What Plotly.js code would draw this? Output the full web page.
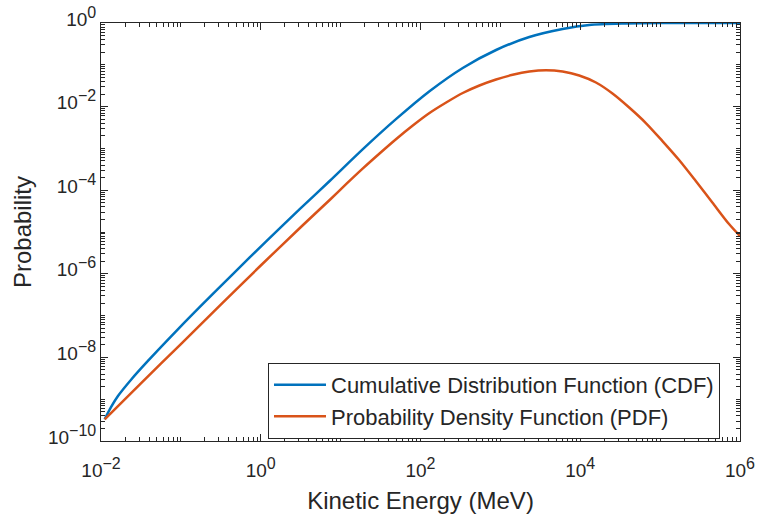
<!DOCTYPE html>
<html>
<head>
<meta charset="utf-8">
<script src="https://cdn.plot.ly/plotly-3.0.1.min.js"></script>
<style>html,body{margin:0;padding:0;background:#fff;}#chart{width:760px;height:516px;}</style>
</head>
<body>
<div id="chart"></div>
<script>
// Kinetic energy (MeV) and probabilities
const energyCdf = [0.01112, 0.01345, 0.01631, 0.02393, 0.03868, 0.0917, 0.1728, 0.4508, 1.178, 3.073, 7.289, 19.0, 49.7, 129.6, 338, 883, 2304, 6010, 12960, 37250, 97160, 1000000];
const cdfValues = [3.30e-10, 6.62e-10, 1.19e-9, 2.96e-9, 8.22e-9, 4.68e-8, 1.61e-7, 1.0e-6, 6.08e-6, 3.52e-5, 1.66e-4, 9.6e-4, 5.07e-3, 0.0233, 0.0841, 0.226, 0.462, 0.718, 0.896, 0.973, 0.996, 1.0];

const energyPdf = [0.01112, 0.0316, 0.1, 0.316, 1.0, 3.16, 7.29, 11.79, 19.0, 30.7, 49.7, 80.1, 129.6, 209.6, 337.9, 546.5, 883.6, 1425, 2304, 3726, 6009, 9716, 15720, 25340, 40980, 66270, 106900, 172800, 279500, 450600, 728800, 1000000];
const pdfValues = [3.30e-10, 2.4e-9, 2.09e-8, 1.82e-7, 1.58e-6, 1.3e-5, 5.83e-5, 1.41e-4, 3.32e-4, 7.55e-4, 1.68e-3, 3.53e-3, 7.03e-3, 0.01254, 0.02115, 0.0320, 0.0445, 0.0576, 0.0691, 0.0743, 0.0691, 0.0555, 0.0377, 0.0206, 9.52e-3, 4.05e-3, 1.50e-3, 5.28e-4, 1.66e-4, 5.08e-5, 1.55e-5, 8.0e-6];

const seriesNames = ['Cumulative Distribution Function (CDF)', 'Probability Density Function (PDF)'];
const xTickVals = [1e-2, 1e0, 1e2, 1e4, 1e6];
const xTickExp = ['\u22122', '0', '2', '4', '6'];
const yTickVals = [1e-10, 1e-8, 1e-6, 1e-4, 1e-2, 1e0];
const yTickExp = ['\u221210', '\u22128', '\u22126', '\u22124', '\u22122', '0'];
const xDecades = [-2, 6];
const yDecades = [-10, 0];

const powerLabel = e => '10<sup><span style="font-size:16px">' + e + '</span></sup>';

// minor tick positions: every digit of every decade that is not a labelled tick
function minorTicks(lo, hi, major) {
  const out = [];
  for (let k = lo; k < hi; k++) {
    for (let d = 1; d <= 9; d++) {
      const v = d * Math.pow(10, k);
      if (!major.some(m => Math.abs(m - v) / v < 1e-9)) out.push(v);
    }
  }
  return out;
}
const xMinor = minorTicks(xDecades[0], xDecades[1], xTickVals);
const yMinor = minorTicks(yDecades[0], yDecades[1], yTickVals);

const ink = '#262626';
const font = 'Liberation Sans, Arial, Helvetica, sans-serif';

const traces = [
  {x: energyCdf, y: cdfValues, name: seriesNames[0], type: 'scatter', mode: 'lines',
   line: {color: '#0072BD', width: 2.5, shape: 'spline', smoothing: 0.8}},
  {x: energyPdf, y: pdfValues, name: seriesNames[1], type: 'scatter', mode: 'lines',
   line: {color: '#D95319', width: 2.5, shape: 'spline', smoothing: 0.8}},
  {x: [], y: [], xaxis: 'x2', yaxis: 'y2', type: 'scatter', mode: 'lines', showlegend: false, hoverinfo: 'skip'},
  {x: [], y: [], xaxis: 'x3', yaxis: 'y2', type: 'scatter', mode: 'lines', showlegend: false, hoverinfo: 'skip'}
];

const axisCommon = {
  type: 'log', showgrid: false, zeroline: false,
  showline: true, linecolor: ink, linewidth: 1, mirror: 'ticks',
  ticks: 'inside', ticklen: 7, tickwidth: 1, tickcolor: ink,
  tickmode: 'array',
  tickfont: {family: font, size: 19, color: ink}
};
const overlayCommon = {
  type: 'log', showgrid: false, zeroline: false,
  showline: true, linecolor: ink, linewidth: 1, mirror: 'ticks',
  ticks: 'inside', ticklen: 4, tickwidth: 1, tickcolor: ink,
  tickmode: 'array', showticklabels: false
};

const layout = {
  width: 760, height: 516,
  margin: {l: 101, r: 20, t: 23, b: 75},
  paper_bgcolor: '#ffffff', plot_bgcolor: '#ffffff',
  showlegend: true,
  font: {family: font, color: ink},
  // labelled x axis: invisible outside ticks push the labels down; visible major ticks come from xaxis3
  xaxis: Object.assign({}, axisCommon, {
    range: xDecades, tickvals: xTickVals, ticktext: xTickExp.map(powerLabel),
    ticks: 'outside', ticklen: 12, tickcolor: 'rgba(0,0,0,0)',
    title: {text: 'Kinetic Energy (MeV)', font: {family: font, size: 24, color: ink}, standoff: 12}
  }),
  yaxis: Object.assign({}, axisCommon, {
    range: yDecades, tickvals: yTickVals, ticktext: yTickExp.map(powerLabel),
    ticklabelshift: -4,
    title: {text: 'Probability', font: {family: font, size: 24, color: ink}, standoff: 9}
  }),
  xaxis2: Object.assign({}, overlayCommon, {range: xDecades, tickvals: xMinor, overlaying: 'x', anchor: 'y2'}),
  xaxis3: Object.assign({}, overlayCommon, {range: xDecades, tickvals: xTickVals, ticklen: 7, overlaying: 'x', anchor: 'y2'}),
  yaxis2: Object.assign({}, overlayCommon, {range: yDecades, tickvals: yMinor, overlaying: 'y', anchor: 'x2'}),
  legend: {
    x: 0.9687, xanchor: 'right', y: 0.005, yanchor: 'bottom',
    bgcolor: '#ffffff', bordercolor: ink, borderwidth: 1,
    font: {family: font, size: 22, color: ink},
    itemwidth: 52,
    tracegroupgap: 0
  }
};

Plotly.newPlot('chart', traces, layout, {staticPlot: true, displayModeBar: false});
</script>
</body>
</html>
